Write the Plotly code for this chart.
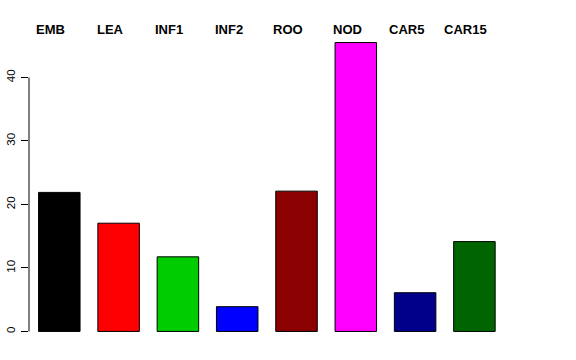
import plotly.graph_objects as go

categories = ["EMB", "LEA", "INF1", "INF2", "ROO", "NOD", "CAR5", "CAR15"]
values = [21.9, 17.05, 11.75, 3.9, 22.1, 45.5, 6.1, 14.15]
colors = ["#000000", "#FF0000", "#00CD00", "#0000FF", "#8B0000", "#FF00FF", "#00008B", "#006400"]
tick_vals = [0, 10, 20, 30, 40]
tick_text = ["0", "10", "20", "30", "40"]

xpos = list(range(len(categories)))

fig = go.Figure()
fig.add_trace(go.Bar(
    x=xpos, y=values,
    marker=dict(color=colors, line=dict(color="#000000", width=1)),
    width=0.70,
    hoverinfo="skip",
))

for i, c in enumerate(categories):
    fig.add_annotation(
        x=i, y=1, xref="x", yref="paper", yanchor="bottom",
        text="<b>%s</b>" % c, showarrow=False, xshift=-8.5, yshift=-8,
        font=dict(family="Liberation Sans, Arial, sans-serif", size=13, color="#000000"),
    )

# R-style axis line spanning only the tick range
fig.add_shape(type="line", xref="paper", yref="y", x0=0, x1=0,
              y0=tick_vals[0], y1=tick_vals[-1],
              line=dict(color="#000000", width=1))

fig.update_layout(
    width=576, height=360,
    margin=dict(l=29, r=66, t=31, b=17, autoexpand=False),
    paper_bgcolor="white", plot_bgcolor="white",
    showlegend=False,
    font=dict(family="Liberation Sans, Arial, sans-serif", size=12, color="#000000"),
    xaxis=dict(range=[-0.511, 7.6], showticklabels=False, showgrid=False,
               zeroline=False, showline=False, ticks="", automargin=False),
    yaxis=dict(range=[-1.82, 47.32], tickvals=tick_vals, ticktext=tick_text,
               tickangle=-90, ticks="outside", ticklen=7, tickcolor="#000000",
               showgrid=False, zeroline=False, showline=False, automargin=False,
               ticklabelstandoff=1,
               tickfont=dict(size=11.5)),
)

fig.write_html("out.html", config={"displayModeBar": False},
               post_script="document.body.style.margin='0';")
